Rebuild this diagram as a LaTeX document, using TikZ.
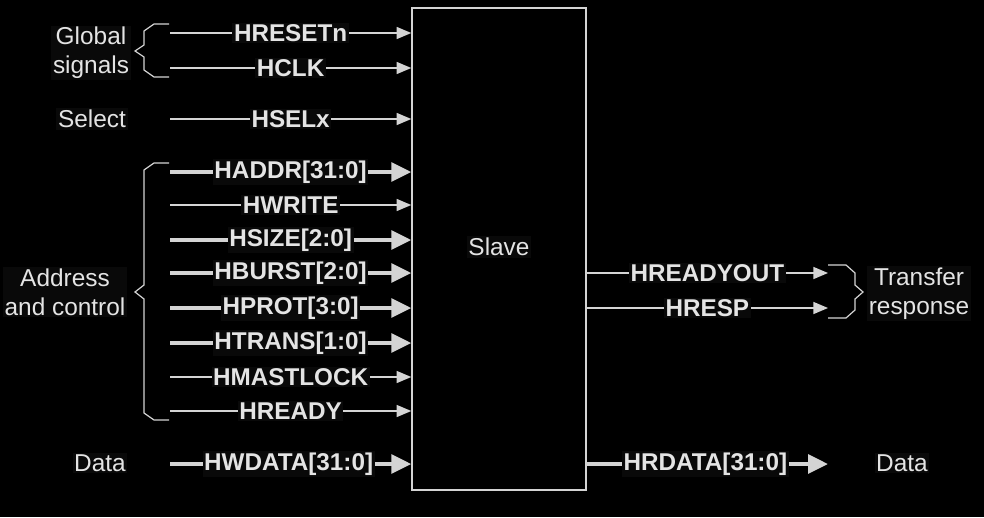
\documentclass[tikz,border=0pt]{standalone}
\usepackage{fontspec}
\setmainfont{Liberation Sans}
\usetikzlibrary{arrows.meta}
\definecolor{ln}{RGB}{212,212,212}
\definecolor{tx}{RGB}{228,228,228}
\definecolor{lbg}{RGB}{9,9,9}
\begin{document}
\begin{tikzpicture}[x=0.75pt,y=-0.75pt,
  sig/.style={font=\bfseries\fontsize{18.2}{20}\selectfont, text=tx, fill=lbg, inner sep=1.2pt},
  grp/.style={font=\fontsize{18.3}{21.75}\selectfont, text=tx, fill=lbg, inner sep=1.2pt, align=center},
  thinarr/.style={draw=ln, line width=1.1pt, -{Triangle[length=11pt,width=9pt]}},
  thickarr/.style={draw=ln, line width=3pt, -{Triangle[length=15pt,width=14pt]}},
  brc/.style={draw=ln, line width=0.9pt, line join=miter}]
\fill[black] (0,0) rectangle (984,517);
\useasboundingbox (0,0) rectangle (984,517);
\node[draw=ln, line width=1.1pt, minimum width=130.5pt, minimum height=361.5pt, inner sep=0pt] (slave) at (499,249) {};
\node[grp] (slavelbl) at (499,247) {Slave};
% left inputs
\coordinate (c1) at (170,33);
\coordinate (c2) at (170,68);
\coordinate (c3) at (170,119);
\coordinate (c4) at (170,172);
\coordinate (c5) at (170,205);
\coordinate (c6) at (170,240);
\coordinate (c7) at (170,273);
\coordinate (c8) at (170,308);
\coordinate (c9) at (170,343);
\coordinate (c10) at (170,377);
\coordinate (c11) at (170,411);
\coordinate (c12) at (170,464);
\draw[thinarr] (c1) -- node[sig] (l1) {HRESETn} (c1 -| slave.west);
\draw[thinarr] (c2) -- node[sig] (l2) {HCLK} (c2 -| slave.west);
\draw[thinarr] (c3) -- node[sig] (l3) {HSELx} (c3 -| slave.west);
\draw[thickarr] (c4) -- node[sig] (l4) {HADDR[31:0]} (c4 -| slave.west);
\draw[thinarr] (c5) -- node[sig] (l5) {HWRITE} (c5 -| slave.west);
\draw[thickarr] (c6) -- node[sig] (l6) {HSIZE[2:0]} (c6 -| slave.west);
\draw[thickarr] (c7) -- node[sig] (l7) {HBURST[2:0]} (c7 -| slave.west);
\draw[thickarr] (c8) -- node[sig] (l8) {HPROT[3:0]} (c8 -| slave.west);
\draw[thickarr] (c9) -- node[sig] (l9) {HTRANS[1:0]} (c9 -| slave.west);
\draw[thinarr] (c10) -- node[sig] (l10) {HMASTLOCK} (c10 -| slave.west);
\draw[thinarr] (c11) -- node[sig] (l11) {HREADY} (c11 -| slave.west);
\draw[thickarr] (c12) -- node[sig, xshift=-1.5pt] (l12) {HWDATA[31:0]} (c12 -| slave.west);
% right outputs
\coordinate (r1) at (828,273);
\coordinate (r2) at (828,308);
\coordinate (r3) at (828,464);
\draw[thinarr] (r1 -| slave.east) -- node[sig] (o1) {HREADYOUT} (r1);
\draw[thinarr] (r2 -| slave.east) -- node[sig] (o2) {HRESP} (r2);
\draw[thickarr] (r3 -| slave.east) -- node[sig, xshift=-1.5pt] (o3) {HRDATA[31:0]} (r3);
% braces
\draw[brc] (169,24) -- (154,24) -- (144,31) -- (144,45) -- (135,51) -- (144,57) -- (144,70) -- (154,77) -- (169,77);
\draw[brc] (169,163) -- (154,163) -- (144,170) -- (144,285) -- (135,292) -- (144,299) -- (144,413) -- (154,420) -- (169,420);
\draw[brc] (828,265) -- (846,265) -- (855,273) -- (855,285) -- (863,292) -- (855,299) -- (855,310) -- (846,318) -- (828,318);
% group labels
\node[grp] (g1) at (91,53) {Global\\signals};
\node[grp] (g2) at (92,119) {Select};
\node[grp] (g3) at (65,292) {Address\\and control};
\node[grp] (g4) at (100,463) {Data};
\node[grp] (g5) at (919,293.5) {Transfer\\response};
\node[grp] (g6) at (902,463) {Data};
\end{tikzpicture}
\end{document}
